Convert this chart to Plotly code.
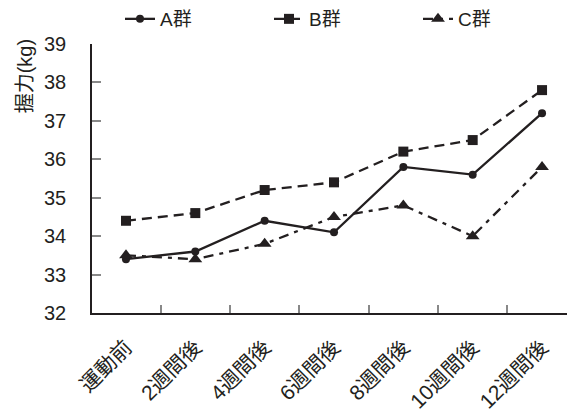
import plotly.graph_objects as go

categories = ["運動前", "2週間後", "4週間後", "6週間後", "8週間後", "10週間後", "12週間後"]
group_a = [33.4, 33.6, 34.4, 34.1, 35.8, 35.6, 37.2]
group_b = [34.4, 34.6, 35.2, 35.4, 36.2, 36.5, 37.8]
group_c = [33.5, 33.4, 33.8, 34.5, 34.8, 34.0, 35.8]
series_names = ["A群", "B群", "C群"]
y_ticks = [32, 33, 34, 35, 36, 37, 38, 39]

FONT = "Liberation Sans, Arial, Noto Sans CJK JP"
INK = "#231f20"

fig = go.Figure()
fig.add_trace(go.Scatter(x=categories, y=group_a, name=series_names[0], mode="lines+markers",
                         line=dict(color=INK, width=2.3),
                         marker=dict(symbol="circle", size=8, color=INK)))
fig.add_trace(go.Scatter(x=categories, y=group_b, name=series_names[1], mode="lines+markers",
                         line=dict(color=INK, width=2.3, dash="10px,6px"),
                         marker=dict(symbol="square", size=10, color=INK)))
fig.add_trace(go.Scatter(x=categories, y=group_c, name=series_names[2], mode="lines+markers",
                         line=dict(color=INK, width=2.3, dash="10px,6px,4px,6px"),
                         marker=dict(symbol="triangle-up", size=12, color=INK)))

fig.update_layout(
    width=567, height=412,
    margin=dict(l=92, r=0, t=44, b=99),
    plot_bgcolor="white", paper_bgcolor="white",
    font=dict(family=FONT, color=INK, size=17),
    showlegend=True,
    legend=dict(orientation="h", x=0.11, xanchor="left", y=1.0, yref="container", yanchor="top",
                font=dict(size=19), entrywidth=104, tracegroupgap=0, bgcolor="rgba(0,0,0,0)"),
    xaxis=dict(type="category", range=[-0.49, 6.36], showline=True, linecolor=INK, linewidth=1.5,
               ticks="inside", tickson="boundaries", ticklen=8, tickcolor="#888", tickwidth=1.5,
               tickangle=-45, tickfont=dict(size=21), ticklabelstandoff=12, automargin=False,
               showgrid=False, zeroline=False),
    yaxis=dict(range=[32, 39], tickvals=y_ticks, showline=True, linecolor=INK, linewidth=1.5,
               ticks="inside", ticklen=9, tickcolor="#888", tickwidth=1.5, automargin=False,
               tickfont=dict(size=20), ticklabelstandoff=20, showgrid=False, zeroline=False),
    annotations=[dict(text="握力(kg)", textangle=-90, xref="paper", yref="paper",
                      x=-0.141, y=0.88, xanchor="center", yanchor="middle", showarrow=False,
                      font=dict(size=20))],
)

fig.write_html("out.html")
